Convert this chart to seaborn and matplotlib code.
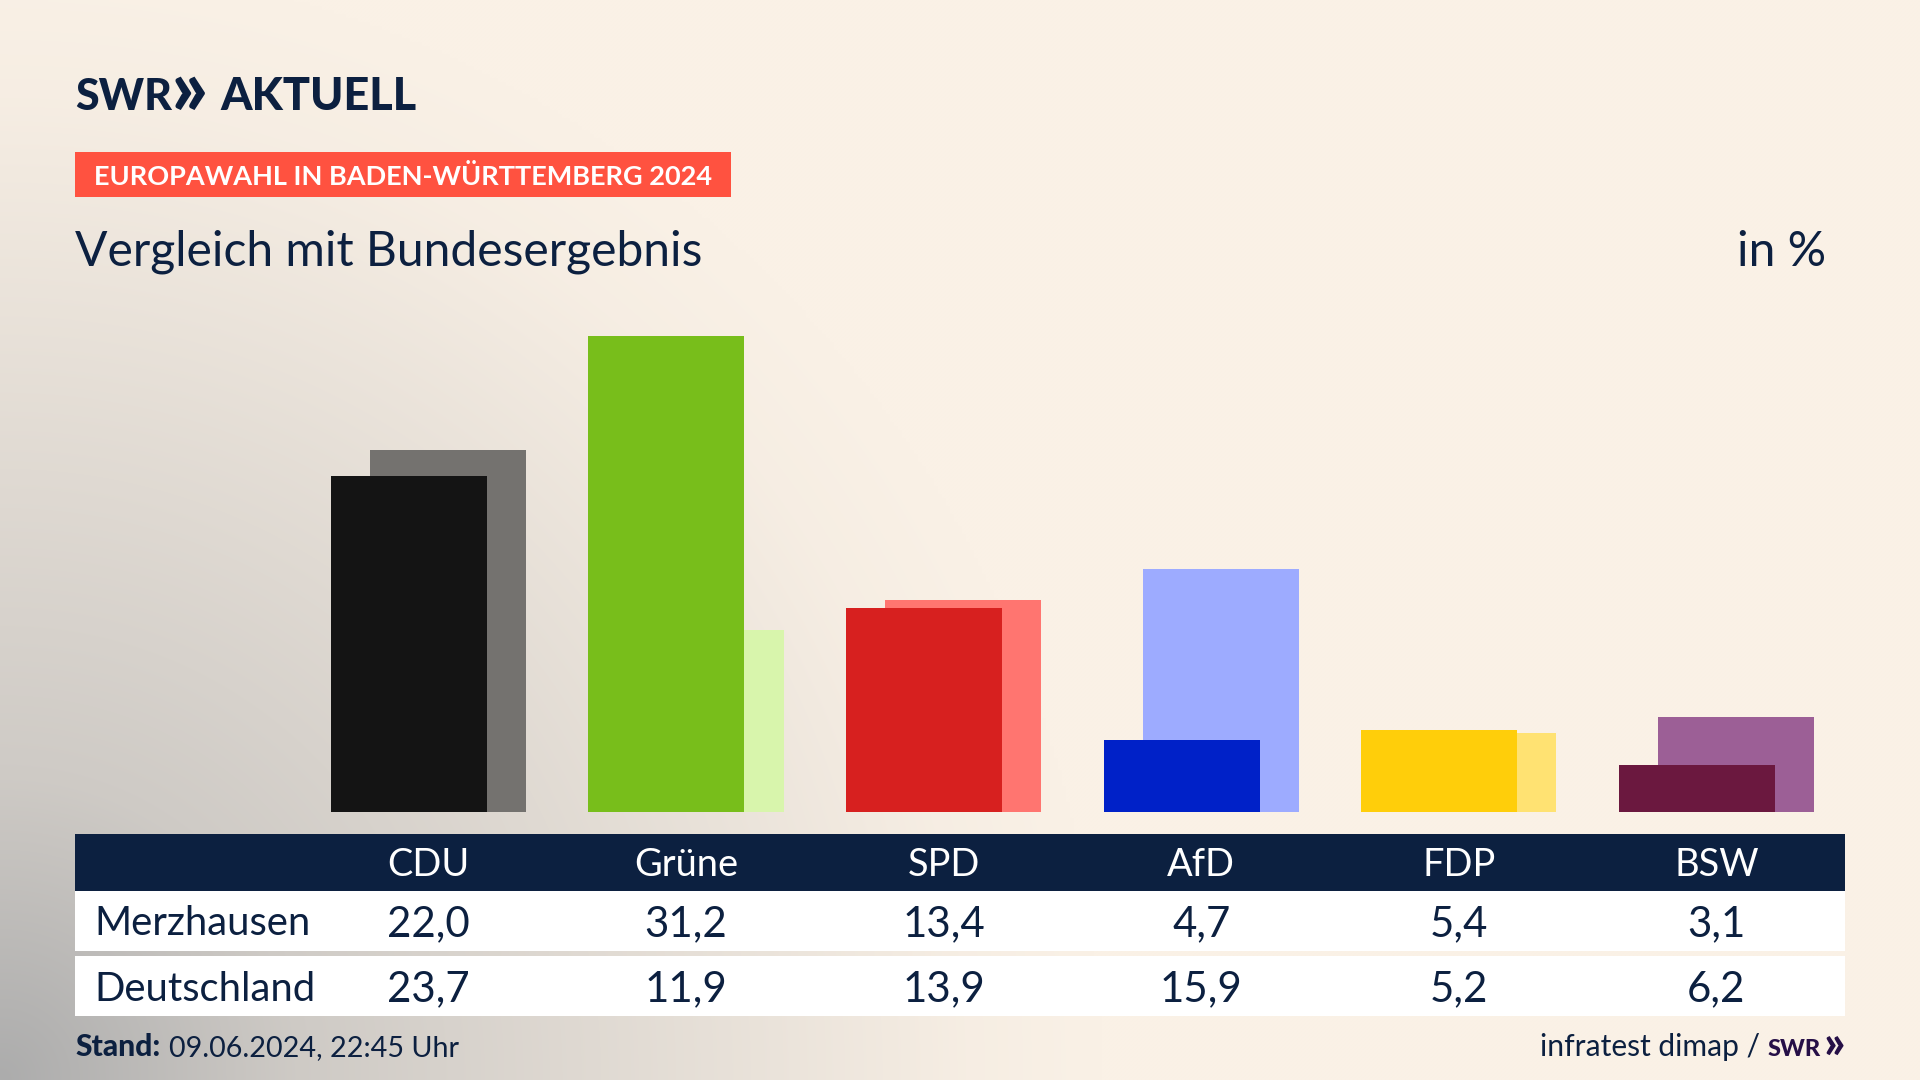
import numpy as np
import pandas as pd
import seaborn as sns
import matplotlib
matplotlib.use("Agg")
import matplotlib.pyplot as plt
from matplotlib.patches import Rectangle

parties = ["CDU", "Grüne", "SPD", "AfD", "FDP", "BSW"]
merzhausen = [22.0, 31.2, 13.4, 4.7, 5.4, 3.1]
deutschland = [23.7, 11.9, 13.9, 15.9, 5.2, 6.2]
colors_front = ["#141414", "#78BE1B", "#D7201F", "#0021C8", "#FFCE0A", "#6B183F"]
colors_back = ["#74726F", "#D8F5AC", "#FF7570", "#9DABFF", "#FFE272", "#9C5F96"]
row_labels = ["Merzhausen", "Deutschland"]
logo = "SWR"
logo_mark = "»"
logo_word = "AKTUELL"
tag = "EUROPAWAHL IN BADEN-WÜRTTEMBERG 2024"
title = "Vergleich mit Bundesergebnis"
unit = "in %"
stand_label = "Stand:"
stand_value = "09.06.2024, 22:45 Uhr"
source = "infratest dimap /"

W, H = 1920, 1080
NAVY = "#0C2040"
FONT = "Lato"
PX = 0.72

sns.set_theme(style="white")
plt.rcParams["font.family"] = [FONT, "DejaVu Sans"]

fig = plt.figure(figsize=(W / 100, H / 100), dpi=100)

# full-figure pixel axes: background, table boxes, text
bg = fig.add_axes([0, 0, 1, 1], zorder=0)
bg.axis("off")

yy, xx = np.mgrid[0:H:270j, 0:W:480j]
d = np.sqrt((xx / 1100) ** 2 + ((H - yy) / 1120) ** 2)
w = np.interp(d, [0, 0.27, 0.55, 0.88, 1.0], [1, 0.56, 0.33, 0.05, 0])[..., None]
cream = np.array([250, 241, 230]) / 255
gray = np.array([172, 172, 172]) / 255
bg.imshow(cream * (1 - w) + gray * w, extent=(0, W, H, 0), aspect="auto", interpolation="bilinear", zorder=0)
bg.set_xlim(0, W)
bg.set_ylim(H, 0)

# bars
STEP = 257.6
OFFSET = 39.2
LEFT = 280.0
BASE = 812
PER_UNIT = 15.26
YMAX = 35
BAR_W = 156 / STEP


def bar_axes(x0, z):
    ax = fig.add_axes(
        [x0 / W, (H - BASE) / H, STEP * len(parties) / W, PER_UNIT * YMAX / H], zorder=z
    )
    ax.patch.set_alpha(0)
    return ax


def bars(ax, values, palette):
    df = pd.DataFrame({"party": parties, "value": values})
    sns.barplot(
        data=df, x="party", y="value", hue="party", palette=palette,
        order=parties, hue_order=parties, width=BAR_W, legend=False,
        saturation=1, ax=ax, linewidth=0,
    )
    ax.set_xlim(-0.5, len(parties) - 0.5)
    ax.set_ylim(0, YMAX)
    ax.axis("off")


bars(bar_axes(LEFT + OFFSET, 1), deutschland, colors_back)
bars(bar_axes(LEFT, 2), merzhausen, colors_front)

# tag
bg.add_patch(Rectangle((75, 152), 656, 45, color="#FF5240", lw=0, zorder=1))
bg.text(94, 185, tag, color="white", fontsize=27.1 * PX, fontweight="bold", va="baseline", zorder=2)

# logo
bg.text(75, 110, logo, color=NAVY, fontsize=43 * PX, fontweight="black", va="baseline", zorder=2)
bg.text(171, 115, logo_mark, color=NAVY, fontsize=80 * PX, fontweight="black", va="baseline", zorder=2)
bg.text(220, 110, logo_word, color=NAVY, fontsize=45 * PX, fontweight="black", va="baseline", zorder=2)

# title
bg.text(75, 266, title, color=NAVY, fontsize=48 * PX, va="baseline", zorder=2)
bg.text(1826, 266, unit, color=NAVY, fontsize=48 * PX, ha="right", va="baseline", zorder=2)

# table
bg.add_patch(Rectangle((75, 834), 1770, 57, color=NAVY, lw=0, zorder=1))
bg.add_patch(Rectangle((75, 891), 1770, 60, color="white", lw=0, zorder=1))
bg.add_patch(Rectangle((75, 956), 1770, 60, color="white", lw=0, zorder=1))
centers = [LEFT + (i + 0.5) * STEP + OFFSET / 2 for i in range(len(parties))]
for cx, p, a, b in zip(centers, parties, merzhausen, deutschland):
    bg.text(cx, 876, p, color="white", fontsize=38 * PX, ha="center", va="baseline", zorder=2)
    bg.text(cx, 936, f"{a:.1f}".replace(".", ","), color=NAVY, fontsize=42 * PX, ha="center", va="baseline", zorder=2)
    bg.text(cx, 1001, f"{b:.1f}".replace(".", ","), color=NAVY, fontsize=42 * PX, ha="center", va="baseline", zorder=2)
bg.text(94, 935, row_labels[0], color=NAVY, fontsize=40 * PX, va="baseline", zorder=2)
bg.text(94, 1001, row_labels[1], color=NAVY, fontsize=40 * PX, va="baseline", zorder=2)

# footer
bg.text(75, 1056, stand_label, color=NAVY, fontsize=30 * PX, fontweight="black", va="baseline", zorder=2)
bg.text(169, 1056, stand_value, color=NAVY, fontsize=28.7 * PX, va="baseline", zorder=2)
bg.text(1760, 1056, source, color=NAVY, fontsize=30 * PX, ha="right", va="baseline", zorder=2)
bg.text(1768, 1056, logo, color="#260F47", fontsize=23.5 * PX, fontweight="black", va="baseline", zorder=2)
bg.text(1845, 1059, logo_mark, color="#260F47", fontsize=46 * PX, fontweight="black", ha="right", va="baseline", zorder=2)

fig.savefig("out.png", dpi=100)
